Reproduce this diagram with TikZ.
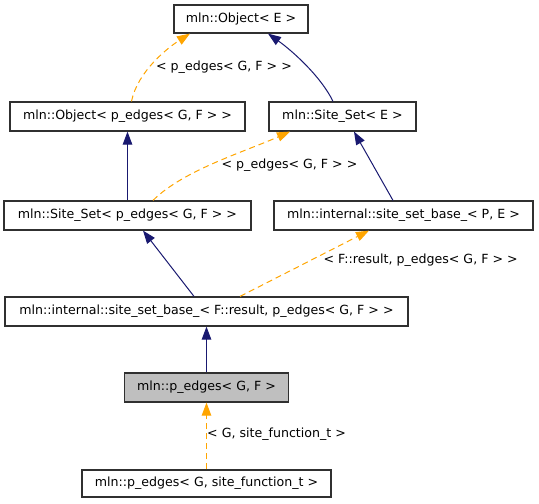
\documentclass[tikz,border=0pt]{standalone}
\usepackage{fontspec}
\setmainfont{DejaVu Sans}
\usetikzlibrary{arrows.meta}
\definecolor{boxline}{RGB}{48,48,48}
\definecolor{pubblue}{RGB}{25,25,112}
\definecolor{tplorange}{RGB}{255,165,0}
\definecolor{curfill}{RGB}{191,191,191}
\begin{document}
\begin{tikzpicture}[x=1pt,y=-1pt,
  cls/.style={draw=boxline,line width=1.2pt,fill=white,minimum height=28pt,inner sep=0pt,
    font=\fontsize{12.6}{14}\selectfont},
  lbl/.style={font=\fontsize{12.6}{14}\selectfont,inner sep=0pt},
  pub/.style={draw=pubblue,line width=1pt,-{Triangle[length=13pt,width=9.5pt,fill=pubblue]}},
  tpl/.style={draw=tplorange,line width=1pt,dash pattern=on 6pt off 4pt,
    -{Triangle[length=13pt,width=9.5pt,fill=tplorange]}}]
\useasboundingbox (0,0) rectangle (539,504);
\node[cls,minimum width=134pt] (oE) at (241,19) {mln::Object< E >};
\node[cls,minimum width=235pt,minimum height=29pt] (oP) at (127.5,116.5) {mln::Object< p\_edges< G, F > >};
\node[cls,minimum width=147pt,minimum height=29pt] (sE) at (342.5,116.5) {mln::Site\_Set< E >};
\node[cls,minimum width=247pt,minimum height=29pt] (sP) at (127.5,215.5) {mln::Site\_Set< p\_edges< G, F > >};
\node[cls,minimum width=259pt,minimum height=29pt] (bPE) at (403.5,215.5) {mln::internal::site\_set\_base\_< P, E >};
\node[cls,minimum width=403pt,minimum height=29pt] (bF) at (206.5,311.5) {mln::internal::site\_set\_base\_< F::result, p\_edges< G, F > >};
\node[cls,minimum width=164pt,minimum height=29pt,fill=curfill] (pG) at (206.5,387.5) {mln::p\_edges< G, F >};
\node[cls,minimum width=249pt,minimum height=27pt] (pS) at (206.5,483.5) {mln::p\_edges< G, site\_function\_t >};

\draw[tpl] ([xshift=4pt]oP.north) .. controls +(6,-30) and +(-22,14) .. ([xshift=-51pt]oE.south);
\node[lbl] (l1) at (224,67) {< p\_edges< G, F > >};
\draw[pub] ([xshift=-9.5pt]sE.north) .. controls +(-12,-25) and +(24,17) .. ([xshift=27pt]oE.south);
\draw[pub] (sP.north) -- (oP.south);
\draw[tpl] ([xshift=25.5pt]sP.north) .. controls +(30,-30) and +(-45,20) .. ([xshift=-52.5pt]sE.south);
\node[lbl] (l2) at (289.5,165) {< p\_edges< G, F > >};
\draw[pub] ([xshift=-10.5pt]bPE.north) -- ([xshift=11.5pt]sE.south);
\draw[pub] ([xshift=-12.5pt]bF.north) -- ([xshift=15.5pt]sP.south);
\draw[tpl] ([xshift=33.5pt]bF.north) -- ([xshift=-34.5pt]bPE.south);
\node[lbl] (l3) at (420.6,260) {< F::result, p\_edges< G, F > >};
\draw[pub] (pG.north) -- (bF.south);
\draw[tpl] (pS.north) -- (pG.south);
\node[lbl,anchor=west] (l4) at (207,434) {< G, site\_function\_t >};
\end{tikzpicture}
\end{document}
